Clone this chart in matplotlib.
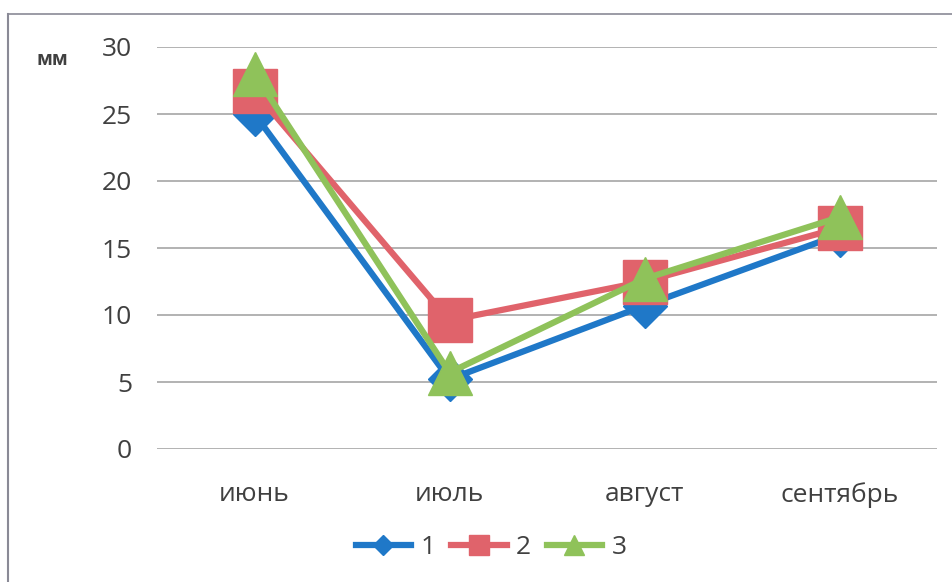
import matplotlib
matplotlib.use("Agg")
import matplotlib.pyplot as plt
from matplotlib.lines import Line2D

# monthly values, mm
months = ["июнь", "июль", "август", "сентябрь"]
series_names = ["1", "2", "3"]
values_1 = [25.0, 5.2, 10.7, 16.0]
values_2 = [26.7, 9.6, 12.5, 16.5]
values_3 = [28.0, 5.7, 12.7, 17.3]
y_ticks = [0, 5, 10, 15, 20, 25, 30]

plt.rcParams["font.family"] = ["Open Sans", "DejaVu Sans"]
TEXT = "#404040"
GRID = "#a6a6a6"

fig = plt.figure(figsize=(9.52, 5.82), dpi=100)
ax = fig.add_axes([157 / 952, 133 / 582, 780 / 952, 402 / 582])

styles = [
    (values_1, "#1f78c8", "D", 22),
    (values_2, "#e0636b", "s", 31),
    (values_3, "#8fc25a", "^", 31),
]
x = list(range(len(months)))
for (vals, color, marker, ms), name in zip(styles, series_names):
    ax.plot(x, vals, color=color, lw=4.5, marker=marker, ms=ms,
            mec=color, mfc=color, label=name, solid_joinstyle="miter")

ax.set_xlim(-0.5, len(months) - 0.5)
ax.set_ylim(0, 30)
ax.set_yticks(y_ticks)
ax.set_xticks(x)
ax.set_xticklabels(months)
ax.tick_params(axis="both", length=0, labelsize=19, colors=TEXT)
ax.tick_params(axis="y", pad=18)
ax.tick_params(axis="x", pad=24)
ax.grid(axis="y", color=GRID, lw=1.2)
ax.set_axisbelow(True)
for side in ["top", "right", "left", "bottom"]:
    ax.spines[side].set_visible(False)

fig.text(37 / 952, 1 - 60 / 582, "мм", fontsize=13.5, fontweight="bold",
         color=TEXT, va="center", ha="left")

# outer frame (top and left edges)
fig.add_artist(Line2D([8 / 952, 1.0], [1 - 14 / 582, 1 - 14 / 582],
                      transform=fig.transFigure, color="#8a8a96", lw=1.2))
fig.add_artist(Line2D([8 / 952, 8 / 952], [0, 1 - 14 / 582],
                      transform=fig.transFigure, color="#8a8a96", lw=1.5))

fig.legend(loc="center", bbox_to_anchor=(491 / 952, 1 - 548 / 582),
           ncol=3, frameon=False, fontsize=19, markerscale=0.45,
           handlelength=2.1, columnspacing=0.6, handletextpad=0.35,
           labelcolor=TEXT)

fig.savefig("out.png", dpi=100)
